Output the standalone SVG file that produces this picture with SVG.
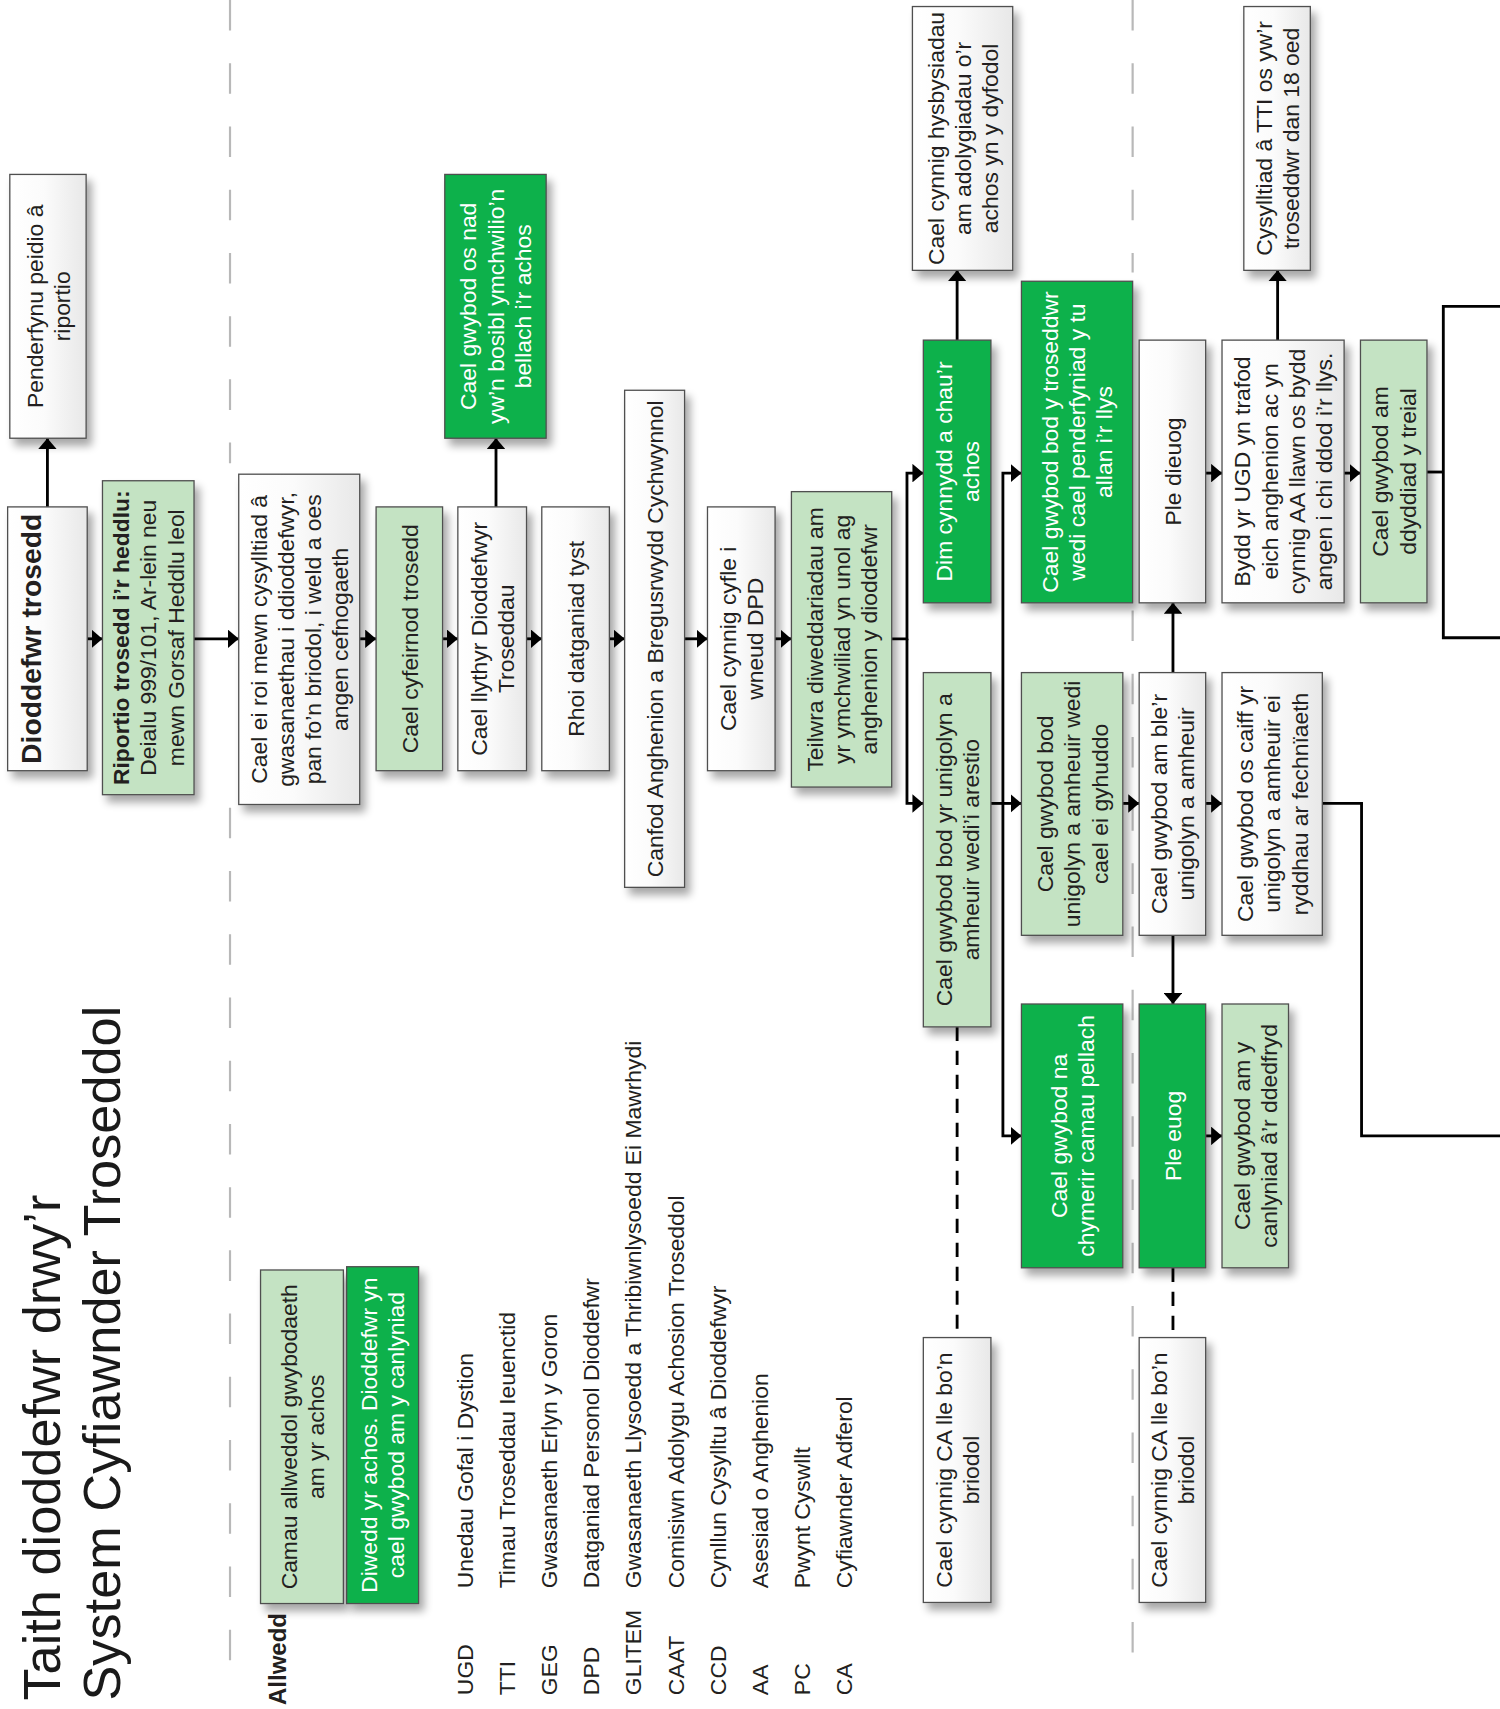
<svg xmlns="http://www.w3.org/2000/svg" width="1500" height="1709" viewBox="0 0 1500 1709">
<style>
.t{font-family:"Liberation Sans",Arial,sans-serif;font-size:21px;fill:#231f20;text-anchor:middle}
.w{fill:#ffffff}
.b{font-weight:bold}
.box{stroke:#505050;stroke-width:1.2;filter:url(#sh)}
.wh{fill:url(#gw)}
.lg{fill:#c4e3c3}
.dg{fill:#0db14b}
.c{fill:none;stroke:#000;stroke-width:2.6}
.a{marker-end:url(#ah)}
.d{stroke-dasharray:13 9}
.g{fill:none;stroke:#b8b8b8;stroke-width:2;stroke-dasharray:28 30}
.ttl{font-family:"Liberation Sans",Arial,sans-serif;font-size:48px;fill:#1a1a1a}
.lt{font-family:"Liberation Sans",Arial,sans-serif;font-size:21px;fill:#231f20}
</style>
<defs>
<linearGradient id="gw" x1="0" y1="0" x2="1" y2="0">
<stop offset="0" stop-color="#ffffff"/>
<stop offset="0.45" stop-color="#fbfbfb"/>
<stop offset="1" stop-color="#e8e8e8"/>
</linearGradient>
<filter id="sh" x="-20%" y="-10%" width="150%" height="130%">
<feGaussianBlur in="SourceAlpha" stdDeviation="4"/>
<feOffset dx="5" dy="6" result="o"/>
<feComponentTransfer><feFuncA type="linear" slope="0.35"/></feComponentTransfer>
<feMerge><feMergeNode/><feMergeNode in="SourceGraphic"/></feMerge>
</filter>
<marker id="ah" markerUnits="userSpaceOnUse" viewBox="0 0 10 17" refX="10" refY="8.5" markerWidth="10" markerHeight="17" orient="auto">
<path d="M0,0 L10,8.5 L0,17 z" fill="#000"/>
</marker>
</defs>
<rect width="1500" height="1709" fill="#ffffff"/>
<g transform="scale(1.090116)">

<g id="guides">
<path class="g" d="M211,0 V425 M211,741 V1545"/>
<path class="g" d="M1039,0 V250 M1039,560 V1545"/>
</g>

<g id="title">
<text class="ttl" transform="translate(55,1560) rotate(-90)"><tspan x="0" y="0">Taith dioddefwr drwy’r</tspan><tspan x="0" y="55">System Cyfiawnder Troseddol</tspan></text>
</g>

<g id="connectors">
<path class="c a" d="M43.5,465 V402"/>
<path class="c a" d="M80,586 H94"/>
<path class="c a" d="M178,586 H219"/>
<path class="c a" d="M330,586 H345"/>
<path class="c a" d="M406,586 H420"/>
<path class="c a" d="M455,465 V402"/>
<path class="c a" d="M483,586 H497"/>
<path class="c a" d="M559,586 H573"/>
<path class="c a" d="M628,586 H649"/>
<path class="c a" d="M711,586 H726"/>
<path class="c a" d="M818,586 H832 V434 H847"/>
<path class="c a" d="M832,586 V737 H847"/>
<path class="c a" d="M878,312 V248"/>
<path class="c d" d="M878,942 V1227"/>
<path class="c a" d="M909,737 H937"/>
<path class="c a" d="M920,737 V434 H937"/>
<path class="c a" d="M920,737 V1042 H937"/>
<path class="c a" d="M1030,737 H1045"/>
<path class="c a" d="M1076,617 V553"/>
<path class="c a" d="M1076,858 V921"/>
<path class="c a" d="M1106,737 H1121"/>
<path class="c a" d="M1106,434 H1121"/>
<path class="c a" d="M1172,312 V248"/>
<path class="c a" d="M1233,434 H1248"/>
<path class="c a" d="M1106,1042 H1121"/>
<path class="c d" d="M1076,1163 V1227"/>
<path class="c" d="M1213,737 H1249 V1042 H1380"/>
<path class="c" d="M1309,433 H1324"/>
<path class="c" d="M1380,281 H1324 V585 H1380"/>
</g>

<g id="n-penderfynu"><rect class="box wh" x="9" y="160" width="70" height="242"/>
<text class="t" transform="translate(44,281) rotate(-90)"><tspan x="0" y="-5">Penderfynu peidio â</tspan><tspan x="0" y="20">riportio</tspan></text></g>

<g id="n-dioddefwr"><rect class="box wh" x="7" y="465" width="73" height="242"/>
<text class="t b" style="font-size:26px" transform="translate(38,586) rotate(-90)"><tspan x="0" y="0">Dioddefwr trosedd</tspan></text></g>

<g id="n-riportio"><rect class="box lg" x="94" y="441" width="84" height="288"/>
<text class="t" transform="translate(136,585) rotate(-90)"><tspan x="0" y="-17.5" class="b">Riportio trosedd i’r heddlu:</tspan><tspan x="0" y="7.5">Deialu 999/101, Ar-lein neu</tspan><tspan x="0" y="32.5">mewn Gorsaf Heddlu leol</tspan></text></g>

<g id="n-cysylltiad-gwasanaethau"><rect class="box wh" x="219" y="435" width="111" height="303"/>
<text class="t" transform="translate(274.5,586.5) rotate(-90)"><tspan x="0" y="-30">Cael ei roi mewn cysylltiad â</tspan><tspan x="0" y="-5">gwasanaethau i ddioddefwyr,</tspan><tspan x="0" y="20">pan fo’n briodol, i weld a oes</tspan><tspan x="0" y="45">angen cefnogaeth</tspan></text></g>

<g id="n-cyfeirnod"><rect class="box lg" x="345" y="465" width="61" height="242"/>
<text class="t" transform="translate(375.5,586) rotate(-90)"><tspan x="0" y="7.5">Cael cyfeirnod trosedd</tspan></text></g>

<g id="n-llythyr"><rect class="box wh" x="420" y="465" width="63" height="242"/>
<text class="t" transform="translate(451.5,586) rotate(-90)"><tspan x="0" y="-5">Cael llythyr Dioddefwyr</tspan><tspan x="0" y="20">Troseddau</tspan></text></g>

<g id="n-dim-ymchwiliad"><rect class="box dg" x="408" y="160" width="93" height="242"/>
<text class="t w" transform="translate(454.5,281) rotate(-90)"><tspan x="0" y="-17.5">Cael gwybod os nad</tspan><tspan x="0" y="7.5">yw’n bosibl ymchwilio’n</tspan><tspan x="0" y="32.5">bellach i’r achos</tspan></text></g>

<g id="n-datganiad"><rect class="box wh" x="497" y="465" width="62" height="242"/>
<text class="t" transform="translate(528,586) rotate(-90)"><tspan x="0" y="7.5">Rhoi datganiad tyst</tspan></text></g>

<g id="n-canfod"><rect class="box wh" x="573" y="358" width="55" height="456"/>
<text class="t" transform="translate(600.5,586) rotate(-90)"><tspan x="0" y="7.5">Canfod Anghenion a Bregusrwydd Cychwynnol</tspan></text></g>

<g id="n-dpd"><rect class="box wh" x="649" y="465" width="62" height="242"/>
<text class="t" transform="translate(680,586) rotate(-90)"><tspan x="0" y="-5">Cael cynnig cyfle i</tspan><tspan x="0" y="20">wneud DPD</tspan></text></g>

<g id="n-teilwra"><rect class="box lg" x="726" y="451" width="92" height="271"/>
<text class="t" transform="translate(772,586.5) rotate(-90)"><tspan x="0" y="-17.5">Teilwra diweddariadau am</tspan><tspan x="0" y="7.5">yr ymchwiliad yn unol ag</tspan><tspan x="0" y="32.5">anghenion y dioddefwr</tspan></text></g>

<g id="n-dim-cynnydd"><rect class="box dg" x="847" y="312" width="62" height="241"/>
<text class="t w" transform="translate(878,432.5) rotate(-90)"><tspan x="0" y="-5">Dim cynnydd a chau’r</tspan><tspan x="0" y="20">achos</tspan></text></g>

<g id="n-hysbysiadau"><rect class="box wh" x="837" y="6" width="92" height="242"/>
<text class="t" transform="translate(883,127) rotate(-90)"><tspan x="0" y="-17.5">Cael cynnig hysbysiadau</tspan><tspan x="0" y="7.5">am adolygiadau o’r</tspan><tspan x="0" y="32.5">achos yn y dyfodol</tspan></text></g>

<g id="n-arestio"><rect class="box lg" x="847" y="617" width="62" height="325"/>
<text class="t" transform="translate(878,779.5) rotate(-90)"><tspan x="0" y="-5">Cael gwybod bod yr unigolyn a</tspan><tspan x="0" y="20">amheuir wedi’i arestio</tspan></text></g>

<g id="n-ca-1"><rect class="box wh" x="847" y="1227" width="62" height="243"/>
<text class="t" transform="translate(878,1348.5) rotate(-90)"><tspan x="0" y="-5">Cael cynnig CA lle bo’n</tspan><tspan x="0" y="20">briodol</tspan></text></g>

<g id="n-tu-allan"><rect class="box dg" x="937" y="258" width="102" height="295"/>
<text class="t w" transform="translate(988,405.5) rotate(-90)"><tspan x="0" y="-17.5">Cael gwybod bod y troseddwr</tspan><tspan x="0" y="7.5">wedi cael penderfyniad y tu</tspan><tspan x="0" y="32.5">allan i’r llys</tspan></text></g>

<g id="n-cyhuddo"><rect class="box lg" x="937" y="617" width="93" height="241"/>
<text class="t" transform="translate(983.5,737.5) rotate(-90)"><tspan x="0" y="-17.5">Cael gwybod bod</tspan><tspan x="0" y="7.5">unigolyn a amheuir wedi</tspan><tspan x="0" y="32.5">cael ei gyhuddo</tspan></text></g>

<g id="n-dim-camau"><rect class="box dg" x="937" y="921" width="93" height="242"/>
<text class="t w" transform="translate(983.5,1042) rotate(-90)"><tspan x="0" y="-5">Cael gwybod na</tspan><tspan x="0" y="20">chymerir camau pellach</tspan></text></g>

<g id="n-ple-dieuog"><rect class="box wh" x="1045" y="312" width="61" height="241"/>
<text class="t" transform="translate(1075.5,432.5) rotate(-90)"><tspan x="0" y="7.5">Ple dieuog</tspan></text></g>

<g id="n-ple"><rect class="box wh" x="1045" y="617" width="61" height="241"/>
<text class="t" transform="translate(1075.5,737.5) rotate(-90)"><tspan x="0" y="-5">Cael gwybod am ble’r</tspan><tspan x="0" y="20">unigolyn a amheuir</tspan></text></g>

<g id="n-ple-euog"><rect class="box dg" x="1045" y="921" width="61" height="242"/>
<text class="t w" transform="translate(1075.5,1042) rotate(-90)"><tspan x="0" y="7.5">Ple euog</tspan></text></g>

<g id="n-ca-2"><rect class="box wh" x="1045" y="1227" width="61" height="243"/>
<text class="t" transform="translate(1075.5,1348.5) rotate(-90)"><tspan x="0" y="-5">Cael cynnig CA lle bo’n</tspan><tspan x="0" y="20">briodol</tspan></text></g>

<g id="n-ugd"><rect class="box wh" x="1121" y="312" width="112" height="241"/>
<text class="t" transform="translate(1177,432.5) rotate(-90)"><tspan x="0" y="-30">Bydd yr UGD yn trafod</tspan><tspan x="0" y="-5">eich anghenion ac yn</tspan><tspan x="0" y="20">cynnig AA llawn os bydd</tspan><tspan x="0" y="45">angen i chi ddod i’r llys.</tspan></text></g>

<g id="n-tti"><rect class="box wh" x="1141" y="6" width="61" height="242"/>
<text class="t" transform="translate(1171.5,127) rotate(-90)"><tspan x="0" y="-5">Cysylltiad â TTI os yw’r</tspan><tspan x="0" y="20">troseddwr dan 18 oed</tspan></text></g>

<g id="n-mechniaeth"><rect class="box wh" x="1121" y="617" width="92" height="241"/>
<text class="t" transform="translate(1167,737.5) rotate(-90)"><tspan x="0" y="-17.5">Cael gwybod os caiff yr</tspan><tspan x="0" y="7.5">unigolyn a amheuir ei</tspan><tspan x="0" y="32.5">ryddhau ar fechnïaeth</tspan></text></g>

<g id="n-dedfryd"><rect class="box lg" x="1121" y="921" width="61" height="242"/>
<text class="t" transform="translate(1151.5,1042) rotate(-90)"><tspan x="0" y="-5">Cael gwybod am y</tspan><tspan x="0" y="20">canlyniad â’r ddedfryd</tspan></text></g>

<g id="n-treial"><rect class="box lg" x="1248" y="312" width="61" height="241"/>
<text class="t" transform="translate(1278.5,432.5) rotate(-90)"><tspan x="0" y="-5">Cael gwybod am</tspan><tspan x="0" y="20">ddyddiad y treial</tspan></text></g>

<g id="legend">
<text class="lt b" style="font-size:22px" transform="translate(262,1564) rotate(-90)">Allwedd</text>
<rect class="box lg" x="239" y="1165" width="76" height="306"/>
<text class="t" transform="translate(277,1318) rotate(-90)"><tspan x="0" y="-5">Camau allweddol gwybodaeth</tspan><tspan x="0" y="20">am yr achos</tspan></text>
<rect class="box dg" x="318" y="1162" width="66" height="309"/>
<text class="t w" transform="translate(351,1316.5) rotate(-90)"><tspan x="0" y="-5">Diwedd yr achos. Dioddefwr yn</tspan><tspan x="0" y="20">cael gwybod am y canlyniad</tspan></text>
</g>

<g id="abbreviations">
<text class="lt" transform="translate(434,1555) rotate(-90)">UGD</text>
<text class="lt" transform="translate(434,1457) rotate(-90)">Unedau Gofal i Dystion</text>
<text class="lt" transform="translate(472.6,1555) rotate(-90)">TTI</text>
<text class="lt" transform="translate(472.6,1457) rotate(-90)">Timau Troseddau Ieuenctid</text>
<text class="lt" transform="translate(511.2,1555) rotate(-90)">GEG</text>
<text class="lt" transform="translate(511.2,1457) rotate(-90)">Gwasanaeth Erlyn y Goron</text>
<text class="lt" transform="translate(549.8,1555) rotate(-90)">DPD</text>
<text class="lt" transform="translate(549.8,1457) rotate(-90)">Datganiad Personol Dioddefwr</text>
<text class="lt" transform="translate(588.4,1555) rotate(-90)">GLITEM</text>
<text class="lt" transform="translate(588.4,1457) rotate(-90)">Gwasanaeth Llysoedd a Thribiwnlysoedd Ei Mawrhydi</text>
<text class="lt" transform="translate(627,1555) rotate(-90)">CAAT</text>
<text class="lt" transform="translate(627,1457) rotate(-90)">Comisiwn Adolygu Achosion Troseddol</text>
<text class="lt" transform="translate(665.6,1555) rotate(-90)">CCD</text>
<text class="lt" transform="translate(665.6,1457) rotate(-90)">Cynllun Cysylltu â Dioddefwyr</text>
<text class="lt" transform="translate(704.2,1555) rotate(-90)">AA</text>
<text class="lt" transform="translate(704.2,1457) rotate(-90)">Asesiad o Anghenion</text>
<text class="lt" transform="translate(742.8,1555) rotate(-90)">PC</text>
<text class="lt" transform="translate(742.8,1457) rotate(-90)">Pwynt Cyswllt</text>
<text class="lt" transform="translate(781.4,1555) rotate(-90)">CA</text>
<text class="lt" transform="translate(781.4,1457) rotate(-90)">Cyfiawnder Adferol</text>
</g>

</g>
</svg>
